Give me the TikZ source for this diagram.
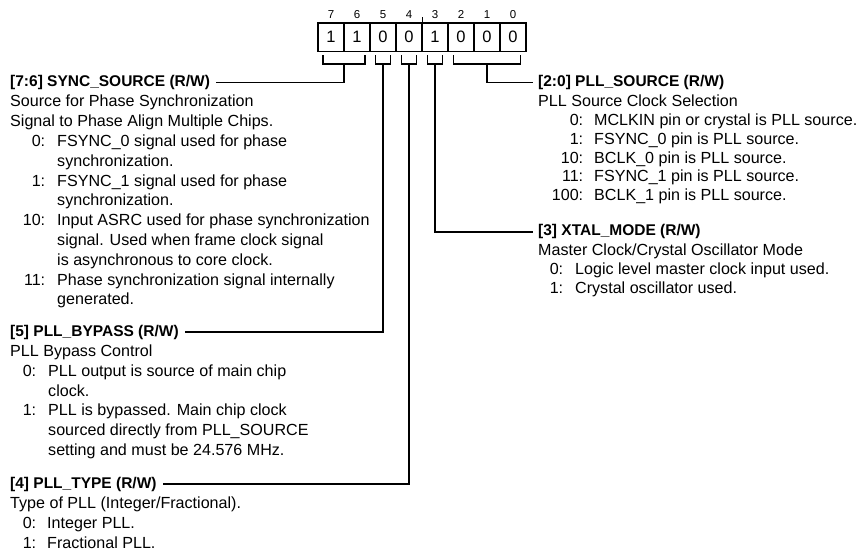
\documentclass[tikz,border=0pt]{standalone}
\usepackage{fontspec}
\setmainfont{Liberation Sans}
\usepackage{array}
\usetikzlibrary{positioning}
\newcolumntype{R}[1]{>{\raggedleft\arraybackslash}p{#1}}
\newcommand{\desc}[1]{\multicolumn{2}{@{}l@{}}{#1}}
\tikzset{
    bitcell/.style={draw, line width=1.6pt, minimum width=26pt, minimum height=28.5pt, inner sep=0pt, outer sep=0pt, font=\fontsize{16.5}{16.5}\selectfont},
    bitnum/.style={inner sep=0pt, font=\fontsize{11.5}{11.5}\selectfont},
    fieldhead/.style={inner sep=0pt, anchor=west, font=\fontsize{15.5}{19.8}\selectfont\bfseries},
    fieldbody/.style={inner sep=0pt, anchor=north west, font=\fontsize{16.1}{19.8}\selectfont},
    fieldbodyr/.style={inner sep=0pt, anchor=north west, font=\fontsize{16.1}{18.8}\selectfont},
    wire/.style={line width=1.7pt}
}

\begin{document}
\begin{tikzpicture}[x=1pt, y=-1pt]
    \useasboundingbox (0,0) rectangle (858,550);

    % register bits
    \node[bitcell] (b7) at (331,37.25) {1};
    \node[bitcell, right=0pt of b7] (b6) {1};
    \node[bitcell, right=0pt of b6] (b5) {0};
    \node[bitcell, right=0pt of b5] (b4) {0};
    \node[bitcell, right=0pt of b4] (b3) {1};
    \node[bitcell, right=0pt of b3] (b2) {0};
    \node[bitcell, right=0pt of b2] (b1) {0};
    \node[bitcell, right=0pt of b1] (b0) {0};

    \node[bitnum, above=4pt of b7] (n7) {7};
    \node[bitnum, above=4pt of b6] (n6) {6};
    \node[bitnum, above=4pt of b5] (n5) {5};
    \node[bitnum, above=4pt of b4] (n4) {4};
    \node[bitnum, above=4pt of b3] (n3) {3};
    \node[bitnum, above=4pt of b2] (n2) {2};
    \node[bitnum, above=4pt of b1] (n1) {1};
    \node[bitnum, above=4pt of b0] (n0) {0};
    \draw[line width=0.8pt] (b4.north east) -- ++(0,-6);

    % brackets under the fields
    \draw[wire] ([shift={(5,3.5)}]b7.south west) -- ++(0,9) -| ([shift={(-5,3.5)}]b6.south east);
    \draw[wire] ([shift={(5.5,3.5)}]b5.south west) -- ++(0,9) -| ([shift={(-5.5,3.5)}]b5.south east);
    \draw[wire] ([shift={(5.5,3.5)}]b4.south west) -- ++(0,9) -| ([shift={(-5.5,3.5)}]b4.south east);
    \draw[wire] ([shift={(5.5,3.5)}]b3.south west) -- ++(0,9) -| ([shift={(-5.5,3.5)}]b3.south east);
    \draw[wire] ([shift={(5.5,3.5)}]b2.south west) -- ++(0,9) -| ([shift={(-5.5,3.5)}]b0.south east);
    \coordinate (s76) at ([shift={(0,12.5)}]b7.south east);
    \coordinate (s5) at ([shift={(0,12.5)}]b5.south);
    \coordinate (s4) at ([shift={(0,12.5)}]b4.south);
    \coordinate (s3) at ([shift={(0,12.5)}]b3.south);
    \coordinate (s20) at ([shift={(0,12.5)}]b1.south);

    % left column
    \node[fieldhead] (hsync) at (10,82.5) {[7:6] SYNC\_SOURCE (R/W)};
    \node[fieldbody, below=3pt of hsync.south west, anchor=north west] (bsync) {%
        \begin{tabular}{@{}R{35pt}@{\hspace{12pt}}l@{}}
            \desc{Source for Phase Synchronization}\\
            \desc{Signal to Phase Align Multiple Chips.}\\
            0: & FSYNC\_0 signal used for phase\\
               & synchronization.\\
            1: & FSYNC\_1 signal used for phase\\
               & synchronization.\\
            10: & Input ASRC used for phase synchronization\\
                & signal. Used when frame clock signal\\
                & is asynchronous to core clock.\\
            11: & Phase synchronization signal internally\\
                & generated.
        \end{tabular}};

    \node[fieldhead] (hbypass) at (10,332) {[5] PLL\_BYPASS (R/W)};
    \node[fieldbody, below=3pt of hbypass.south west, anchor=north west] (bbypass) {%
        \begin{tabular}{@{}R{26pt}@{\hspace{12pt}}l@{}}
            \desc{PLL Bypass Control}\\
            0: & PLL output is source of main chip\\
               & clock.\\
            1: & PLL is bypassed. Main chip clock\\
               & sourced directly from PLL\_SOURCE\\
               & setting and must be 24.576 MHz.
        \end{tabular}};

    \node[fieldhead] (htype) at (10,484) {[4] PLL\_TYPE (R/W)};
    \node[fieldbody, below=3pt of htype.south west, anchor=north west] (btype) {%
        \begin{tabular}{@{}R{26pt}@{\hspace{11pt}}l@{}}
            \desc{Type of PLL (Integer/Fractional).}\\
            0: & Integer PLL.\\
            1: & Fractional PLL.
        \end{tabular}};

    % right column
    \node[fieldhead] (hpllsrc) at (538,82.5) {[2:0] PLL\_SOURCE (R/W)};
    \node[fieldbodyr, below=3.5pt of hpllsrc.south west, anchor=north west] (bpllsrc) {%
        \begin{tabular}{@{}R{45pt}@{\hspace{11pt}}l@{}}
            \desc{PLL Source Clock Selection}\\
            0: & MCLKIN pin or crystal is PLL source.\\
            1: & FSYNC\_0 pin is PLL source.\\
            10: & BCLK\_0 pin is PLL source.\\
            11: & FSYNC\_1 pin is PLL source.\\
            100: & BCLK\_1 pin is PLL source.
        \end{tabular}};

    \node[fieldhead] (hxtal) at (538,231.7) {[3] XTAL\_MODE (R/W)};
    \node[fieldbodyr, below=3.5pt of hxtal.south west, anchor=north west] (bxtal) {%
        \begin{tabular}{@{}R{25pt}@{\hspace{12pt}}l@{}}
            \desc{Master Clock/Crystal Oscillator Mode}\\
            0: & Logic level master clock input used.\\
            1: & Crystal oscillator used.
        \end{tabular}};

    % connectors
    \draw[wire] (s76) |- ([xshift=6pt]hsync.east);
    \draw[wire] (s5) |- ([xshift=6pt]hbypass.east);
    \draw[wire] (s4) |- ([xshift=6pt]htype.east);
    \draw[wire] (s20) |- ([xshift=-5pt]hpllsrc.west);
    \draw[wire] (s3) |- ([xshift=-5pt]hxtal.west);
\end{tikzpicture}
\end{document}
